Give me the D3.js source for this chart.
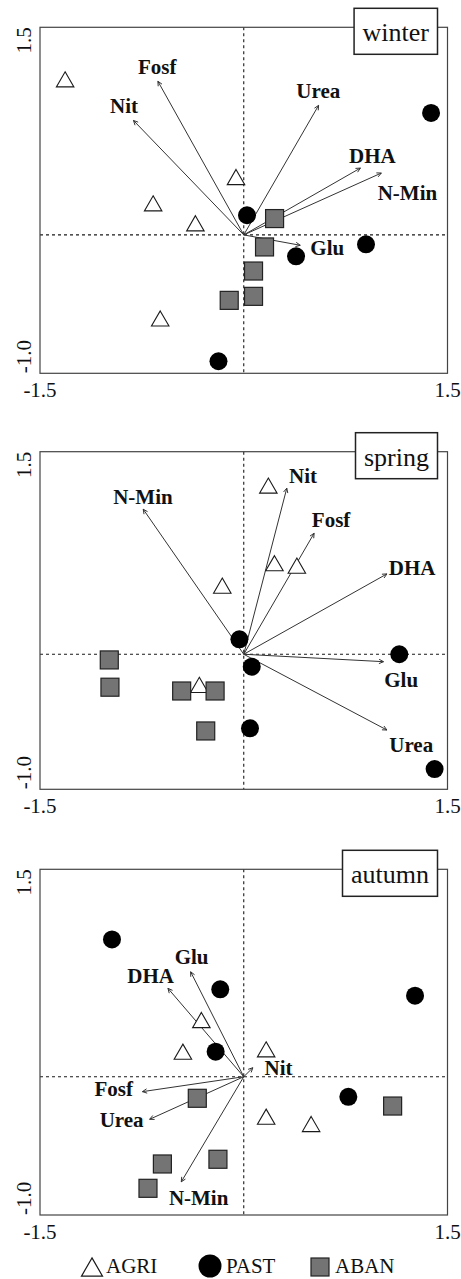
<!DOCTYPE html>
<html>
<head>
<meta charset="utf-8">
<script src="https://cdn.jsdelivr.net/npm/d3@7"></script>
<style>
  html, body { margin: 0; padding: 0; background: #fff; }
  svg { display: block; }
</style>
</head>
<body>
<svg id="chart" width="461" height="1279"></svg>
<script>
// ---------- data ----------
const xDomain = [-1.5, 1.5];
const yDomain = [-1.0, 1.5];
const xTickLabels = ["-1.5", "1.5"];
const yTickLabels = ["-1.0", "1.5"];
const xTickValues = [-1.5, 1.5];
const yTickValues = [-1.0, 1.5];
const seasons = ["winter", "spring", "autumn"];
const groups = ["AGRI", "PAST", "ABAN"];

// winter
const winterAGRI = [[-1.315, 1.124], [-0.057, 0.418], [-0.667, 0.228], [-0.356, 0.084], [-0.615, -0.604]];
const winterPAST = [[1.379, 0.881], [0.024, 0.142], [0.385, -0.155], [0.900, -0.068], [-0.186, -0.913]];
const winterABAN = [[0.227, 0.118], [0.153, -0.087], [0.072, -0.261], [0.072, -0.444], [-0.107, -0.473]];
const winterVars = ["Fosf", "Nit", "Urea", "DHA", "N-Min", "Glu"];
const winterVarX = [-0.632, -0.812, 0.551, 0.859, 1.013, 0.416];
const winterVarY = [1.110, 0.827, 0.936, 0.483, 0.447, -0.075];
const winterLabX = [-0.637, -0.881, 0.549, 0.947, 1.205, 0.615];
const winterLabY = [1.160, 0.879, 0.987, 0.517, 0.250, -0.147];

// spring
const springAGRI = [[0.181, 1.249], [0.226, 0.674], [0.391, 0.656], [-0.158, 0.508], [-0.327, -0.227]];
const springPAST = [[-0.032, 0.111], [1.145, 0.0], [0.059, -0.092], [0.046, -0.548], [1.405, -0.850]];
const springABAN = [[-0.990, -0.042], [-0.985, -0.244], [-0.457, -0.272], [-0.211, -0.272], [-0.280, -0.568]];
const springVars = ["N-Min", "Nit", "Fosf", "DHA", "Glu", "Urea"];
const springVarX = [-0.740, 0.317, 0.518, 1.054, 1.029, 1.054];
const springVarY = [1.074, 1.230, 0.896, 0.595, -0.055, -0.561];
const springLabX = [-0.742, 0.437, 0.643, 1.240, 1.159, 1.233];
const springLabY = [1.113, 1.269, 0.943, 0.587, -0.242, -0.724];

// autumn
const autumnAGRI = [[-0.312, 0.41], [-0.448, 0.181], [0.165, 0.198], [0.165, -0.289], [0.496, -0.342]];
const autumnPAST = [[-0.970, 0.993], [-0.173, 0.632], [1.261, 0.586], [-0.207, 0.181], [0.770, -0.145]];
const autumnABAN = [[-0.342, -0.156], [1.096, -0.212], [-0.599, -0.631], [-0.190, -0.597], [-0.705, -0.807]];
const autumnVars = ["Glu", "DHA", "Nit", "Fosf", "Urea", "N-Min"];
const autumnVarX = [-0.391, -0.558, 0.067, -0.746, -0.693, -0.46];
const autumnVarY = [0.759, 0.639, 0.065, -0.108, -0.308, -0.76];
const autumnLabX = [-0.384, -0.685, 0.256, -0.957, -0.899, -0.332];
const autumnLabY = [0.815, 0.678, 0.012, -0.140, -0.364, -0.928];

// ---------- assemble ----------
function buildVars(names, vx, vy, lx, ly) {
  return names.map((n, i) => ({ name: n, x: vx[i], y: vy[i], lx: lx[i], ly: ly[i] }));
}
const panelData = [
  { season: seasons[0], AGRI: winterAGRI, PAST: winterPAST, ABAN: winterABAN,
    vars: buildVars(winterVars, winterVarX, winterVarY, winterLabX, winterLabY) },
  { season: seasons[1], AGRI: springAGRI, PAST: springPAST, ABAN: springABAN,
    vars: buildVars(springVars, springVarX, springVarY, springLabX, springLabY) },
  { season: seasons[2], AGRI: autumnAGRI, PAST: autumnPAST, ABAN: autumnABAN,
    vars: buildVars(autumnVars, autumnVarX, autumnVarY, autumnLabX, autumnLabY) }
];

// ---------- layout ----------
const frameLeft = 40, frameRight = 447.5;
const frames = [ { top: 27.3, bottom: 373.3 }, { top: 451.7, bottom: 789.3 }, { top: 869.3, bottom: 1215 } ];
const serif = "'Liberation Serif', 'DejaVu Serif', serif";
const ink = "#1a1a1a";

const svg = d3.select("#chart");

function trianglePath(cx, cy, s) {
  const h = s * Math.sqrt(3) / 2;
  return `M${cx},${cy - h / 2}L${cx + s / 2},${cy + h / 2}L${cx - s / 2},${cy + h / 2}Z`;
}

panelData.forEach((p, i) => {
  const f = frames[i];
  const x = d3.scaleLinear().domain(xDomain).range([frameLeft, frameRight]);
  const y = d3.scaleLinear().domain(yDomain).range([f.bottom, f.top]);
  const g = svg.append("g");

  // zero lines
  g.append("line").attr("x1", x(0)).attr("x2", x(0)).attr("y1", f.top).attr("y2", f.bottom)
    .attr("stroke", ink).attr("stroke-width", 1.1).attr("stroke-dasharray", "3,3");
  g.append("line").attr("x1", frameLeft).attr("x2", frameRight).attr("y1", y(0)).attr("y2", y(0))
    .attr("stroke", ink).attr("stroke-width", 1.1).attr("stroke-dasharray", "3,3");

  // arrows
  p.vars.forEach(v => {
    const x0 = x(0), y0 = y(0), x1 = x(v.x), y1 = y(v.y);
    g.append("line").attr("x1", x0).attr("y1", y0).attr("x2", x1).attr("y2", y1)
      .attr("stroke", "#333").attr("stroke-width", 1);
    const ang = Math.atan2(y1 - y0, x1 - x0);
    const L = 5, a = Math.PI / 7;
    const hp = `M${x1 - L * Math.cos(ang - a)},${y1 - L * Math.sin(ang - a)}L${x1},${y1}L${x1 - L * Math.cos(ang + a)},${y1 - L * Math.sin(ang + a)}`;
    g.append("path").attr("d", hp).attr("fill", "none").attr("stroke", "#333").attr("stroke-width", 1);
    g.append("text").attr("x", x(v.lx)).attr("y", y(v.ly))
      .attr("text-anchor", "middle")
      .attr("font-family", serif).attr("font-weight", "bold").attr("font-size", 21)
      .attr("fill", "#111").text(v.name);
  });

  // points
  g.selectAll("path.agri").data(p.AGRI).join("path").attr("class", "agri")
    .attr("d", d => trianglePath(x(d[0]), y(d[1]), 17.5))
    .attr("fill", "#fff").attr("stroke", ink).attr("stroke-width", 1.1);
  g.selectAll("circle.past").data(p.PAST).join("circle").attr("class", "past")
    .attr("cx", d => x(d[0])).attr("cy", d => y(d[1])).attr("r", 9)
    .attr("fill", "#000");
  g.selectAll("rect.aban").data(p.ABAN).join("rect").attr("class", "aban")
    .attr("x", d => x(d[0]) - 9).attr("y", d => y(d[1]) - 9).attr("width", 18).attr("height", 18)
    .attr("fill", "#747474").attr("stroke", "#222").attr("stroke-width", 1.2);

  // frame
  g.append("rect").attr("x", frameLeft).attr("y", f.top)
    .attr("width", frameRight - frameLeft).attr("height", f.bottom - f.top)
    .attr("fill", "none").attr("stroke", "#444").attr("stroke-width", 1.2);

  // tick labels
  xTickValues.forEach((t, k) => {
    g.append("text").attr("x", x(t)).attr("y", f.bottom + 24)
      .attr("text-anchor", "middle").attr("font-family", serif).attr("font-size", 21)
      .attr("fill", "#111").text(xTickLabels[k]);
  });
  yTickValues.forEach((t, k) => {
    const anchor = k === 0 ? "start" : "end";
    g.append("text").attr("transform", `translate(31,${y(t)}) rotate(-90)`)
      .attr("text-anchor", anchor).attr("font-family", serif).attr("font-size", 21)
      .attr("fill", "#111").text(yTickLabels[k]);
  });

  // season box
  const tx = g.append("text").attr("font-family", serif).attr("font-size", 26)
    .attr("fill", "#111").attr("text-anchor", "end")
    .attr("x", 429).attr("y", f.top + 14).text(p.season);
  const w = tx.node().getComputedTextLength();
  g.insert("rect", () => tx.node())
    .attr("x", 429 - w - 8.5).attr("y", f.top - 19).attr("width", w + 17).attr("height", 46)
    .attr("fill", "#fff").attr("stroke", "#222").attr("stroke-width", 1.5);
});

// ---------- legend ----------
const leg = svg.append("g");
const legY = 1266;
leg.append("path").attr("d", trianglePath(92, legY + 1, 21))
  .attr("fill", "#fff").attr("stroke", ink).attr("stroke-width", 1.2);
leg.append("text").attr("x", 106).attr("y", legY + 7).attr("font-family", serif).attr("font-size", 21)
  .attr("fill", "#111").text(groups[0]);
leg.append("circle").attr("cx", 210).attr("cy", legY).attr("r", 11.5).attr("fill", "#000");
leg.append("text").attr("x", 226).attr("y", legY + 7).attr("font-family", serif).attr("font-size", 21)
  .attr("fill", "#111").text(groups[1]);
leg.append("rect").attr("x", 311).attr("y", legY - 8).attr("width", 18).attr("height", 18)
  .attr("fill", "#747474").attr("stroke", "#222").attr("stroke-width", 1.2);
leg.append("text").attr("x", 335).attr("y", legY + 7).attr("font-family", serif).attr("font-size", 21)
  .attr("fill", "#111").text(groups[2]);
</script>
</body>
</html>
